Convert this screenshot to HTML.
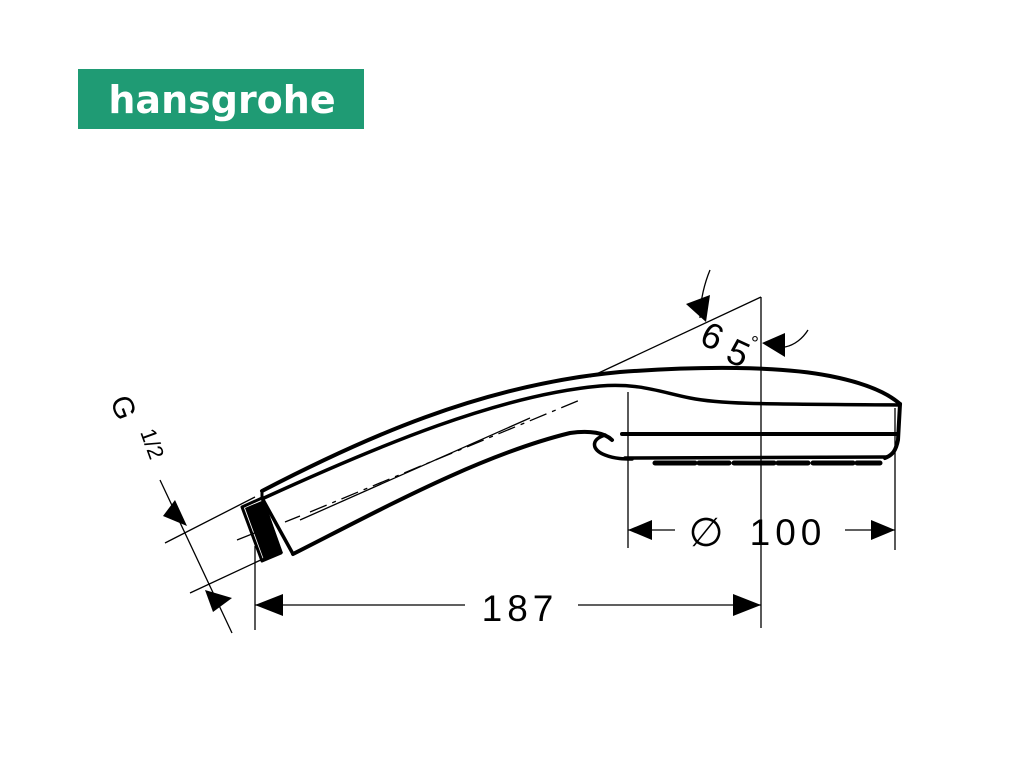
<!DOCTYPE html>
<html><head><meta charset="utf-8"><style>
html,body{margin:0;padding:0;background:#fff;width:1016px;height:759px;overflow:hidden}
svg{display:block}
</style></head><body>
<svg width="1016" height="759" viewBox="0 0 1016 759" xmlns="http://www.w3.org/2000/svg">
<rect x="78" y="69" width="286" height="60" fill="#1f9b74"/>
<text x="222" y="113" text-anchor="middle" font-family="DejaVu Sans, sans-serif" font-weight="bold" font-size="38" fill="#fff">hansgrohe</text>

<g fill="none" stroke="#000" stroke-linecap="round" stroke-linejoin="round">
<path d="M262,491 C360,440 480,385 620,372 C700,366 780,366 830,376 C870,384 890,395 900,404" stroke-width="4"/>
<path d="M264,498 C380,445 500,395 600,386 C640,383 660,392 690,398 C720,404 750,404 900,405" stroke-width="3.5"/>
<path d="M293,554 C380,510 480,455 570,433 C590,430 605,433 612,440" stroke-width="4"/>
<path d="M605,435 C590,440 592,450 605,455 C615,459 625,459 632,459" stroke-width="3.5"/>
<path d="M900,404 L898,440 C896,450 893,455 885,458" stroke-width="4"/>
<path d="M622,434 L898,434" stroke-width="4"/>
<path d="M625,458 L886,457" stroke-width="3.5"/>
<path d="M655,463 L880,463" stroke-width="5" stroke-dasharray="40 4 30 5"/>
<path d="M242,507 L262,498 L281,553 L262,561 Z" stroke-width="3"/>
<path d="M262,498 L293,554" stroke-width="3.5"/>
<path d="M262,491 L262,498" stroke-width="3"/>
</g>
<path d="M245,508 L264,500 L283,553 L264,560 Z" fill="#000"/>

<g fill="none" stroke="#000" stroke-width="1.3">
<path d="M237,540 L262,530" />
<path d="M285,522 L300,516 M310,512 L580,400" stroke-dasharray="18 6 4 6"/>
<path d="M300,520 L530,418"/>
<path d="M761,297 L590,377"/>
<path d="M761,297 L761,628"/>
<path d="M628,392 L628,548"/>
<path d="M895,408 L895,550"/>
<path d="M255,546 L255,630"/>
<path d="M165,543 L255,497"/>
<path d="M190,593 L265,558"/>
<path d="M160,480 L232,633"/>
<path d="M255,605 L465,605 M578,605 L761,605"/>
<path d="M628,530 L675,530 M845,530 L895,530"/>
<path d="M700,318 C700,300 705,282 710,270"/>
<path d="M785,347 C795,345 803,338 808,330"/>
</g>
<g fill="#000">
<polygon points="255,605 283,594 283,616"/>
<polygon points="761,605 733,594 733,616"/>
<polygon points="628,530 652,520 652,540"/>
<polygon points="895,530 871,520 871,540"/>
<polygon points="706,322 686,304 710,295"/>
<polygon points="762,343 785,333 785,357"/>
<polygon points="187,526 163,516 175,500"/>
<polygon points="205,590 232,598 213,612"/>
</g>
<g font-family="Liberation Sans, sans-serif" fill="#000">
<text x="520" y="621" text-anchor="middle" font-size="37" letter-spacing="5">187</text>
<text x="788" y="545" text-anchor="middle" font-size="37" letter-spacing="5">100</text>
<text x="706" y="546" text-anchor="middle" font-size="40">∅</text>
<text transform="translate(698,343) rotate(25)" font-size="36">6</text>
<text transform="translate(724,360) rotate(25)" font-size="36">5</text>
<text x="751" y="350" font-size="20">°</text>
<text transform="translate(110,400) rotate(70)" font-size="30">G</text>
<text transform="translate(140,432) rotate(70)" font-size="22">1/2</text>
</g>
</svg>
</body></html>
